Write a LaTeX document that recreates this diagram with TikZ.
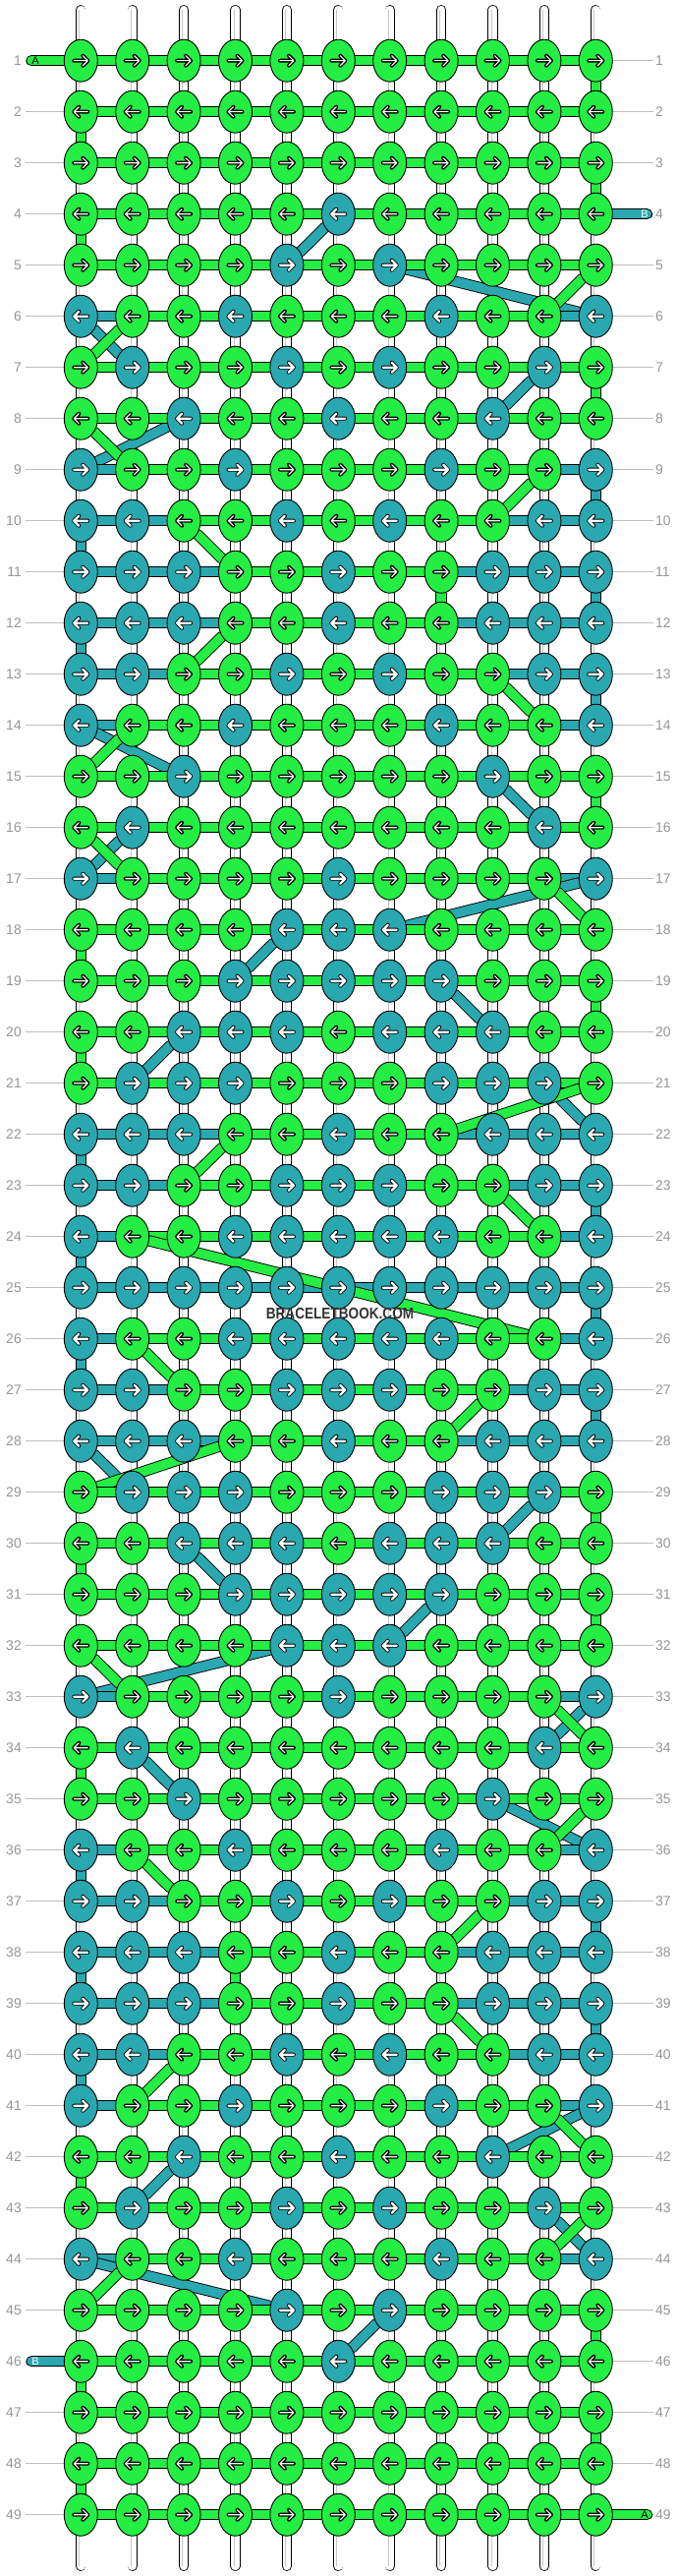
\documentclass[tikz,border=0pt]{standalone}
\usepackage{fontspec}
\setmainfont{Liberation Sans}
\usepackage{tikz}
\usetikzlibrary{shapes.geometric}
\usepackage{xcolor}
\definecolor{knotG}{RGB}{36, 238, 68}
\definecolor{knotT}{RGB}{42, 168, 176}
\definecolor{mygrey}{RGB}{150, 150, 150}
\definecolor{mylightgrey}{RGB}{190, 190, 190}
\definecolor{mydarkgrey}{RGB}{51, 51, 51}

\pgfdeclarelayer{warp}
\pgfdeclarelayer{tealstrand}
\pgfdeclarelayer{greenstrand}
\pgfsetlayers{warp,tealstrand,greenstrand,main}

% knot colours, row by row (G = green, T = teal)
\newcommand{\knotrows}{%
{G,G,G,G,G,G,G,G,G,G,G},{G,G,G,G,G,G,G,G,G,G,G},{G,G,G,G,G,G,G,G,G,G,G},%
{G,G,G,G,G,T,G,G,G,G,G},{G,G,G,G,T,G,T,G,G,G,G},{T,G,G,T,G,G,G,T,G,G,T},%
{G,T,G,G,T,G,T,G,G,T,G},{G,G,T,G,G,T,G,G,T,G,G},{T,G,G,T,G,G,G,T,G,G,T},%
{T,T,G,G,T,G,T,G,G,T,T},{T,T,T,G,G,T,G,G,T,T,T},{T,T,T,G,G,T,G,G,T,T,T},%
{T,T,G,G,T,G,T,G,G,T,T},{T,G,G,T,G,G,G,T,G,G,T},{G,G,T,G,G,G,G,G,T,G,G},%
{G,T,G,G,G,G,G,G,G,T,G},{T,G,G,G,G,T,G,G,G,G,T},{G,G,G,G,T,T,T,G,G,G,G},%
{G,G,G,T,T,T,T,T,G,G,G},{G,G,T,T,T,G,T,T,T,G,G},{G,T,T,T,G,G,G,T,T,T,G},%
{T,T,T,G,G,T,G,G,T,T,T},{T,T,G,G,T,T,T,G,G,T,T},{T,G,G,T,T,T,T,T,G,G,T},%
{T,T,T,T,T,T,T,T,T,T,T},{T,G,G,T,T,T,T,T,G,G,T},{T,T,G,G,T,T,T,G,G,T,T},%
{T,T,T,G,G,T,G,G,T,T,T},{G,T,T,T,G,G,G,T,T,T,G},{G,G,T,T,T,G,T,T,T,G,G},%
{G,G,G,T,T,T,T,T,G,G,G},{G,G,G,G,T,T,T,G,G,G,G},{T,G,G,G,G,T,G,G,G,G,T},%
{G,T,G,G,G,G,G,G,G,T,G},{G,G,T,G,G,G,G,G,T,G,G},{T,G,G,T,G,G,G,T,G,G,T},%
{T,T,G,G,T,G,T,G,G,T,T},{T,T,T,G,G,T,G,G,T,T,T},{T,T,T,G,G,T,G,G,T,T,T},%
{T,T,G,G,T,G,T,G,G,T,T},{T,G,G,T,G,G,G,T,G,G,T},{G,G,T,G,G,T,G,G,T,G,G},%
{G,T,G,G,T,G,T,G,G,T,G},{T,G,G,T,G,G,G,T,G,G,T},{G,G,G,G,T,G,T,G,G,G,G},%
{G,G,G,G,G,T,G,G,G,G,G},{G,G,G,G,G,G,G,G,G,G,G},{G,G,G,G,G,G,G,G,G,G,G},%
{G,G,G,G,G,G,G,G,G,G,G}}

% draw one colour's string through its knots in working order
\newcommand{\drawstrand}[3]{%
    \gdef\laststop{#2}%
    \foreach \r in {1,...,49}{%
        \ifodd\r\relax \def\order{1,...,11}\else \def\order{11,10,...,1}\fi
        \foreach \c in \order {%
            \edef\kc{\csname kc-\r-\c\endcsname}%
            \if #1\kc
                \draw[strand=#1] (\laststop) -- (k-\r-\c);
                \xdef\laststop{k-\r-\c}%
            \fi
        }%
    }%
    \draw[strand=#1] (\laststop) -- (#3);%
}

\begin{document}
\begin{tikzpicture}[
        x=1pt, y=-1pt,
        knot/.style={
            ellipse,
            draw=black,
            line width=0.9pt,
            fill=knot#1,
            minimum width=34pt,
            minimum height=43pt,
            inner sep=0pt
        },
        strand/.style={draw=black, double=knot#1, line width=0.9pt, double distance=9.5pt, line cap=round},
        warpstring/.style={draw=black, double=white, line width=0.8pt, double distance=8.5pt, line cap=round},
        rowlabel/.style={text=mygrey, font=\fontsize{14}{14}\selectfont, inner sep=0pt},
        endlabel/.style={font=\fontsize{11}{11}\selectfont, inner sep=0pt},
        guide/.style={draw=mylightgrey, line width=0.9pt},
        arrowedge/.style={draw=black, line width=4pt, line cap=round, line join=round},
        arrowcore/.style={draw=white, line width=\corew, line cap=round, line join=round},
        knotarrow/.pic={
            \draw[arrowedge] (-7,0) -- (7,0) (2,-5) -- (7,0) -- (2,5);
            \draw[arrowcore] (-7,0) -- (7,0) (2,-5) -- (7,0) -- (2,5);
        }
    ]

    \useasboundingbox (0,0) rectangle (688,2620);

    % Knots
    \foreach \rowdata [count=\r] in \knotrows {
        \pgfmathsetmacro{\yr}{61.7+52*(\r-1)}
        \ifodd\r\relax \def\ang{0}\else \def\ang{180}\fi
        \foreach \k [count=\c] in \rowdata {
            \pgfmathsetmacro{\xc}{82.3+52.4*(\c-1)}
            \expandafter\xdef\csname kc-\r-\c\endcsname{\k}
            \if G\k \def\corew{1.1pt}\else \def\corew{2.3pt}\fi
            \node[knot=\k] (k-\r-\c) at (\xc,\yr) {};
            \pic[rotate=\ang] at (k-\r-\c.center) {knotarrow};
        }
        \node[rowlabel, anchor=east] (lbl-L-\r) at (22,\yr) {\r};
        \node[rowlabel, anchor=west] (lbl-R-\r) at (667,\yr) {\r};
    }

    % Paper, warp strings and row guides
    \begin{pgfonlayer}{warp}
        \fill[white] (0,0) rectangle (688,2620);
        \foreach \c in {1,...,11}{
            \pgfmathsetmacro{\xc}{82.3+52.4*(\c-1)}
            \coordinate (top-\c) at (\xc,10);
            \coordinate (bot-\c) at (\xc,2610);
            \draw[warpstring] (top-\c) -- (bot-\c);
            \draw[draw=black!22, line width=0.8pt] ([xshift=-1.5pt]top-\c) -- ([xshift=-1.5pt]bot-\c);
        }
        \foreach \r in {1,...,49}{
            \draw[guide] ([xshift=4pt]lbl-L-\r.east) -- (k-\r-1.west);
            \draw[guide] (k-\r-11.east) -- ([xshift=-2pt]lbl-R-\r.west);
        }
    \end{pgfonlayer}

    % String ends
    \coordinate (tailA-in) at (32,61.7);
    \coordinate (tailB-in) at (658.5,217.7);
    \coordinate (tailA-out) at (658.5,2557.7);
    \coordinate (tailB-out) at (32,2401.7);

    % Strands
    \begin{pgfonlayer}{tealstrand}
        \drawstrand{T}{tailB-in}{tailB-out}
    \end{pgfonlayer}
    \begin{pgfonlayer}{greenstrand}
        \drawstrand{G}{tailA-in}{tailA-out}
    \end{pgfonlayer}

    \node[endlabel] (endA-in) at (36,61.7) {A};
    \node[endlabel, text=white] (endB-in) at (656,217.7) {B};
    \node[endlabel] (endA-out) at (656,2557.7) {A};
    \node[endlabel, text=white] (endB-out) at (36,2401.7) {B};

    \node[font=\bfseries\fontsize{16}{16}\selectfont, text=mydarkgrey, inner sep=0pt] (watermark) at (346,1336) {\scalebox{0.85}[1]{BRACELETBOOK.COM}};
\end{tikzpicture}
\end{document}
